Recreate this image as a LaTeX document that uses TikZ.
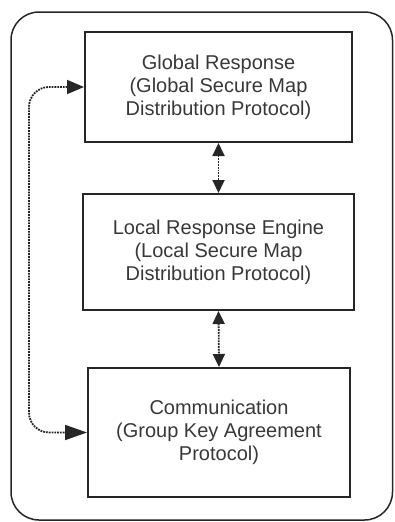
\documentclass[tikz,border=0pt]{standalone}
\usepackage{fontspec}
\setmainfont{Liberation Sans}
\usetikzlibrary{arrows.meta}
\definecolor{txt}{HTML}{383838}
\tikzset{
  blk/.style={draw=black!85, line width=2pt, align=center, text=txt,
    font=\fontsize{20}{23}\selectfont, inner sep=0pt},
  conn/.style={densely dotted, line width=1.8pt, black!85,
    {Triangle[length=13pt,width=12pt]}-{Triangle[length=13pt,width=12pt]}},
  sideconn/.style={densely dotted, line width=1.8pt, black!85,
    {Triangle[length=17pt,width=14pt]}-{Triangle[length=22pt,width=15pt]}}
}
\begin{document}
\begin{tikzpicture}[x=1pt,y=-1pt]
\useasboundingbox (0,0) rectangle (394,522);
\draw[line width=1.5pt, black!85, rounded corners=28pt] (11,12) rectangle (392.5,520);
\node[blk, minimum width=267pt, minimum height=110pt] (g) at (218.5,87)
  {Global Response\\(Global Secure Map\\Distribution Protocol)};
\node[blk, minimum width=271pt, minimum height=116pt] (l) at (218.5,252)
  {Local Response Engine\\(Local Secure Map\\Distribution Protocol)};
\node[blk, minimum width=262pt, minimum height=129pt] (c) at (219,432.5)
  {Communication\\(Group Key Agreement\\Protocol)};
\draw[conn] (g.south) -- (l.north);
\draw[conn] (l.south) -- (c.north);
\coordinate (lx) at (29,0);
\draw[sideconn, rounded corners=20pt] (g.west) -| (lx |- c.west) -- (c.west);
\end{tikzpicture}
\end{document}
